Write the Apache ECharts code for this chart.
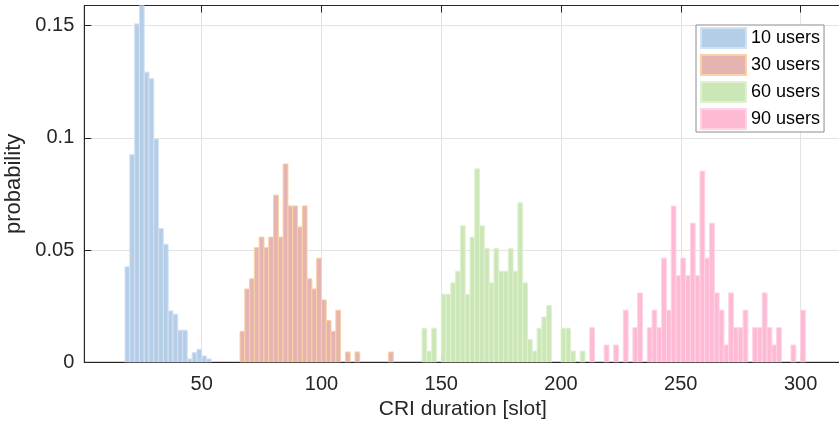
<!DOCTYPE html>
<html>
<head>
<meta charset="utf-8">
<script src="https://cdn.jsdelivr.net/npm/echarts@6/dist/echarts.min.js"></script>
<style>html,body{margin:0;padding:0;background:#fff}#c{width:839px;height:430px}</style>
</head>
<body>
<div id="c"></div>
<script>
// Histogram bin width (slots)
const binWidth = 2;

// 10 users
const binStart10 = [18,20,22,24,26,28,30,32,34,36,38,40,42,44,46,48,50,52];
const prob10 = [0.0426,0.0925,0.1508,0.159,0.1293,0.1264,0.0995,0.0596,0.0526,0.0229,0.0214,0.0143,0.0143,0.0015,0.0043,0.0058,0.0028,0.0015];

// 30 users
const binStart30 = [66,68,70,72,74,76,78,80,82,84,86,88,90,92,94,96,98,100,102,104,106,110,114,128];
const prob30 = [0.0138,0.0327,0.0372,0.0511,0.0558,0.0511,0.0558,0.0745,0.0558,0.0884,0.0697,0.0697,0.0603,0.0697,0.0372,0.0327,0.0464,0.0278,0.0186,0.0138,0.0232,0.0046,0.0046,0.0046];

// 60 users
const binStart60 = [142,144,146,150,152,154,156,158,160,162,164,166,168,170,172,174,176,178,180,182,184,186,188,190,192,194,200,202,204,208];
const prob60 = [0.0152,0.0050,0.0152,0.0303,0.0303,0.0354,0.0406,0.0608,0.0303,0.0558,0.0862,0.0608,0.0508,0.0354,0.0508,0.0406,0.0406,0.0508,0.0406,0.0711,0.0354,0.0101,0.0050,0.0152,0.0202,0.0253,0.0152,0.0152,0.0050,0.0050];

// 90 users
const binStart90 = [212,218,222,226,230,232,236,238,240,242,244,246,248,250,252,254,256,258,260,262,264,266,268,270,272,274,276,280,282,284,286,288,290,296,300];
const prob90 = [0.0154,0.0077,0.0077,0.0232,0.0154,0.0309,0.0154,0.0232,0.0154,0.0464,0.0232,0.0696,0.0386,0.0464,0.0386,0.0620,0.0386,0.0852,0.0464,0.0620,0.0309,0.0232,0.0077,0.0309,0.0154,0.0154,0.0232,0.0154,0.0154,0.0309,0.0154,0.0077,0.0154,0.0077,0.0232];

const seriesNames = ['10 users','30 users','60 users','90 users'];
const xTicks = [50,100,150,200,250,300];
const yTicks = [0,0.05,0.1,0.15];

const fills = ['#b5cee8','#e6b4b0','#cbe7b6','#feb9d5'];
const strokes = ['#d3e2f2','#f8d2a6','#e0f1d3','#ffd3e6'];

const FONT = '"Liberation Sans", Arial, Helvetica, sans-serif';
const TXT = '#262626';

function pairs(xs, ys){ return xs.map((x,i)=>[x, ys[i]]); }
const datasets = [pairs(binStart10,prob10), pairs(binStart30,prob30), pairs(binStart60,prob60), pairs(binStart90,prob90)];

function makeRender(idx){
  return function(params, api){
    const x0 = api.value(0), y = api.value(1);
    const p0 = api.coord([x0, y]);
    const p1 = api.coord([x0 + binWidth, 0]);
    return {
      type: 'rect',
      shape: {x: p0[0], y: p0[1], width: p1[0]-p0[0], height: p1[1]-p0[1]},
      style: {fill: fills[idx], stroke: strokes[idx], lineWidth: 1}
    };
  };
}

const chart = echarts.init(document.getElementById('c'), null, {renderer:'canvas'});
chart.setOption({
  animation: false,
  backgroundColor: '#fff',
  textStyle: {fontFamily: FONT},
  grid: {left: 84.3, top: 5.5, width: 757, height: 356.8, show: true, borderColor: TXT, borderWidth: 1, backgroundColor: 'transparent', containLabel: false, outerBoundsMode: 'none'},
  legend: {
    orient: 'vertical', left: 696, top: 25,
    padding: [2, 4, 2, 4], itemGap: 5, itemWidth: 45, itemHeight: 20,
    icon: 'rect',
    backgroundColor: '#fff', borderColor: '#8c8c8c', borderWidth: 1, borderRadius: 0,
    textStyle: {fontFamily: FONT, fontSize: 18, color: '#000', padding: [0,0,0,0]},
    data: seriesNames
  },
  xAxis: [{
    type: 'value', min: 1, max: 317,
    name: 'CRI duration [slot]', nameLocation: 'middle', nameGap: 36,
    nameTextStyle: {fontFamily: FONT, fontSize: 21, color: TXT},
    axisLine: {show: true, lineStyle: {color: TXT, width: 1}},
    axisTick: {show: true, inside: true, length: 7, lineStyle: {color: TXT}, customValues: xTicks},
    axisLabel: {show: true, fontFamily: FONT, fontSize: 20, color: TXT, margin: 12, customValues: xTicks},
    splitLine: {show: true, lineStyle: {color: '#e3e3e3', width: 1}}
  }, {
    type: 'value', min: 1, max: 317, position: 'top',
    axisLine: {show: true, lineStyle: {color: TXT, width: 1}},
    axisTick: {show: true, inside: true, length: 7, lineStyle: {color: TXT}, customValues: xTicks},
    axisLabel: {show: false},
    splitLine: {show: false}
  }],
  yAxis: {
    type: 'value', min: 0, max: 0.159,
    name: 'probability', nameLocation: 'middle', nameGap: 51, nameRotate: 90,
    nameTextStyle: {fontFamily: FONT, fontSize: 22, color: TXT},
    axisLine: {show: true, lineStyle: {color: TXT, width: 1}},
    axisTick: {show: true, inside: true, length: 7, lineStyle: {color: TXT}, customValues: yTicks},
    axisLabel: {show: true, fontFamily: FONT, fontSize: 20, color: TXT, margin: 10, customValues: yTicks},
    splitLine: {show: true, lineStyle: {color: '#e3e3e3', width: 1}}
  },
  series: datasets.map((d, i) => ({
    type: 'custom',
    name: seriesNames[i],
    xAxisIndex: 0, yAxisIndex: 0,
    clip: true,
    itemStyle: {color: fills[i], borderColor: strokes[i], borderWidth: 1},
    encode: {x: 0, y: 1},
    data: d,
    renderItem: makeRender(i)
  }))
});
</script>
</body>
</html>
